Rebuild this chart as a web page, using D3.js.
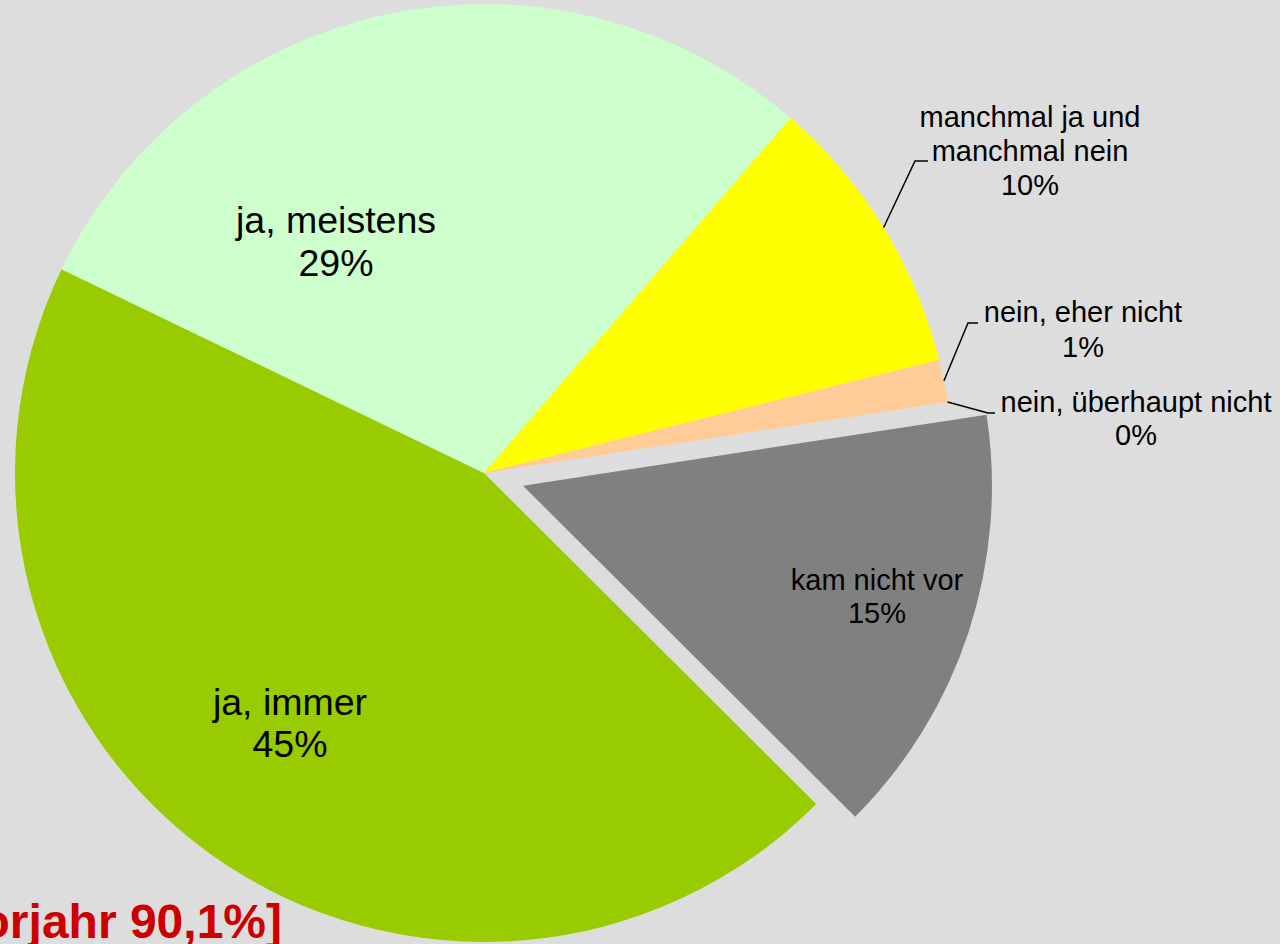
<!DOCTYPE html>
<html><head><meta charset="utf-8">
<script src="https://cdn.jsdelivr.net/npm/d3@7"></script>
<style>html,body{margin:0;padding:0;background:#dddddd;overflow:hidden}svg{display:block}</style>
</head><body>
<svg id="c" width="1280" height="944"></svg>
<script>
const categories = ["ja, immer","ja, meistens","manchmal ja und manchmal nein","nein, eher nicht","nein, überhaupt nicht","kam nicht vor"];
const labelLines = [["ja, immer"],["ja, meistens"],["manchmal ja und","manchmal nein"],["nein, eher nicht"],["nein, überhaupt nicht"],["kam nicht vor"]];
const values = [44.7, 29.2, 9.8, 1.45, 0, 14.9];
const colors = ["#99cc00","#ccffcc","#ffff00","#ffcc99","#c0c0c0","#808080"];
const footnote = "[Vorjahr 90,1%]";

// layout (not data)
const cx = 484, cy = 473, R = 469;
const startDeg = 134.9;
const explode = [0,0,0,0,0,41];
const labelCenters = [[290,715],[336,233],[1030,127],[1083,322],[1136,412],[877,590]];
const labelSize = [37.5,37.5,29,29,29,29];
const lineGap = [42,43,34,35,33,33];
const leaderElbow = [null,null,[915,161],[968,323],[988,413],null];
const leaderEnd = [null,null,[928,161],[978,323],[995,413],null];

const svg = d3.select("#c");
const data = categories.map((c,i)=>({c, v:values[i], i}));
const pie = d3.pie().sort(null).value(d=>d.v)
  .startAngle(startDeg*Math.PI/180).endAngle(startDeg*Math.PI/180+2*Math.PI);
const arcs = pie(data);
const arc = d3.arc().innerRadius(0).outerRadius(R);
const g = svg.append("g").attr("transform",`translate(${cx},${cy})`);
g.selectAll("path").data(arcs.filter(d=>d.data.v>0)).join("path")
  .attr("d",arc)
  .attr("fill",d=>colors[d.data.i])
  .attr("transform",d=>{
    const m=(d.startAngle+d.endAngle)/2, e=explode[d.data.i];
    return `translate(${e*Math.sin(m)},${-e*Math.cos(m)})`;
  });

// leader lines
arcs.forEach(d=>{
  const i=d.data.i;
  if(!leaderElbow[i]) return;
  const m=(d.startAngle+d.endAngle)/2;
  const sx=cx+R*Math.sin(m), sy=cy-R*Math.cos(m);
  svg.append("path")
    .attr("d",d3.line()([[sx,sy],leaderElbow[i],leaderEnd[i]]))
    .attr("fill","none").attr("stroke","#000").attr("stroke-width",1.5);
});

// labels
arcs.forEach(d=>{
  const i=d.data.i;
  const lines=labelLines[i].concat([Math.round(d.data.v)+"%"]);
  const t=svg.append("text").attr("text-anchor","middle")
    .attr("font-family","Liberation Sans, Arial, sans-serif")
    .attr("font-size",labelSize[i]).attr("fill","#000");
  lines.forEach((l,k)=>{
    t.append("tspan").attr("x",labelCenters[i][0]).attr("y",labelCenters[i][1]+k*lineGap[i]).text(l);
  });
});

svg.append("text").attr("x",282).attr("y",938).attr("text-anchor","end")
  .attr("font-family","Liberation Sans, Arial, sans-serif").attr("font-weight","bold")
  .attr("font-size",48).attr("fill","#cc0000").text(footnote);
</script>
</body></html>
